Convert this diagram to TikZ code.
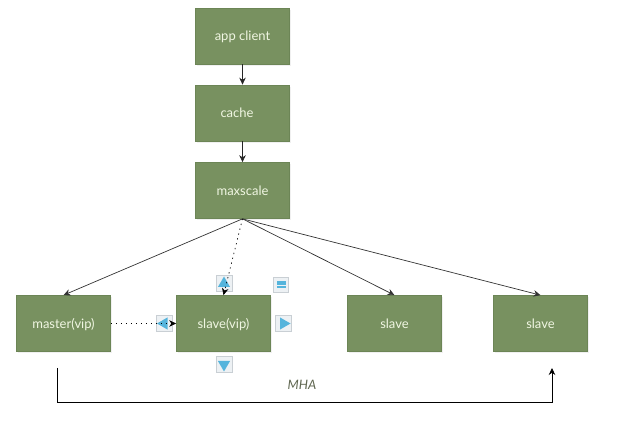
\documentclass[tikz,border=0pt]{standalone}
\usepackage{fontspec}
\setmainfont{Lato}
\usetikzlibrary{shapes.geometric,shadows,arrows.meta}
\definecolor{boxgreen}{HTML}{789160}
\definecolor{boxline}{HTML}{6C8556}
\definecolor{boxtext}{HTML}{F0F6E2}
\definecolor{handlefill}{HTML}{EDF1F4}
\definecolor{handleline}{HTML}{C9CFD4}
\definecolor{handleblue}{HTML}{55B4DC}
\definecolor{mhatext}{HTML}{5F6650}
\begin{document}
\begin{tikzpicture}[x=1pt, y=-1pt, >={Stealth[length=7pt,width=6.5pt]}, line width=0.7pt,
    every node/.style={font=\fontsize{13}{15}\selectfont},
    box/.style={draw=boxline, fill=boxgreen, text=boxtext, minimum width=94pt, minimum height=56pt,
      inner sep=0pt, text depth=0pt, drop shadow={shadow xshift=1pt, shadow yshift=-2pt, opacity=0.12}},
    handle/.style={draw=handleline, fill=handlefill, minimum size=16pt, inner sep=0pt},
    glyph/.style={regular polygon, regular polygon sides=3, fill=handleblue, minimum size=14pt, inner sep=0pt},
    sparse/.style={dash pattern=on 1.3pt off 3.7pt}]
      \useasboundingbox (0,0) rectangle (622,422);
      \node[box] (client) at (242.5,36) {app client};
      \node[box] (cache) at (242.5,113) {\hspace{-11pt}cache};
      \node[box] (maxscale) at (242.5,190.5) {maxscale};
      \node[box] (master) at (63.5,323.5) {master(vip)};
      \node[box] (slavevip) at (223.5,323.5) {slave(vip)};
      \node[box] (slavea) at (394.5,323.5) {slave};
      \node[box] (slaveb) at (540.5,323.5) {slave};
      % resize handles round the selected box
      \node[handle] (hup) at (224,283.5) {};
      \node[handle] (hleft) at (164,323.5) {};
      \node[handle] (hright) at (283.5,323.5) {};
      \node[handle] (hdown) at (224,364.5) {};
      \node[handle, minimum size=15pt] (hmenu) at (281,285) {};
      \node[glyph] (gup) at (hup) {};
      \node[glyph, shape border rotate=90] (gleft) at (hleft) {};
      \node[glyph, shape border rotate=-90] (gright) at (hright) {};
      \node[glyph, shape border rotate=180] (gdown) at (hdown) {};
      \node[fill=handleblue, minimum width=9pt, minimum height=7pt, inner sep=0pt] (gmenu) at (hmenu) {};
      \draw[handlefill, line width=0.8pt] (gmenu.west) -- (gmenu.east);
      \draw[->, black!85] (client) -- (cache);
      \draw[->, black!85] (cache) -- (maxscale);
      \draw[->, black!80] (maxscale.south) -- (master.north);
      \draw[->, black!80] (maxscale.south) -- (slavea.north);
      \draw[->, black!80] (maxscale.south) -- (slaveb.north);
      \draw[->, sparse] (maxscale.south) -- (slavevip.north);
      \draw[->, sparse] (master.east) -- (slavevip.west);
      \coordinate (mhastart) at (57,368);
      \coordinate (mhaend) at (552,368);
      \draw[->] (mhastart) -- ++(0,34) -| (mhaend);
      \node[font=\fontsize{13}{15}\selectfont\itshape, text=mhatext] (mha) at (302,385) {MHA};
    \end{tikzpicture}
\end{document}
